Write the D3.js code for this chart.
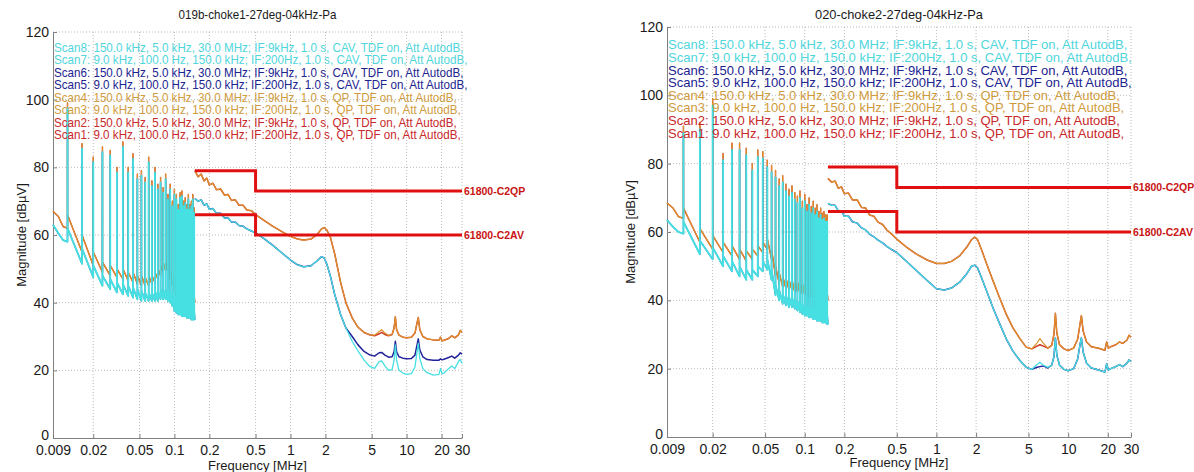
<!DOCTYPE html>
<html>
<head>
<meta charset="utf-8">
<script src="https://cdn.jsdelivr.net/npm/d3@7"></script>
<style>
  body { margin: 0; background: #fff; }
  svg { display: block; }
  text { font-family: "Liberation Sans", Arial, sans-serif; }
</style>
</head>
<body>
<svg id="chart" width="1194" height="472"></svg>
<script>
// ---- axis ticks / labels ----
var xTicks = [0.009, 0.02, 0.05, 0.1, 0.2, 0.5, 1, 2, 5, 10, 20, 30];
var xTickLabels = ["0.009", "0.02", "0.05", "0.1", "0.2", "0.5", "1", "2", "5", "10", "20", "30"];
var yTicks = [0, 20, 40, 60, 80, 100, 120];
var titles = ["019b-choke1-27deg-04kHz-Pa", "020-choke2-27deg-04kHz-Pa"];

// ---- legend (top line first) ----
var legendLines = [
  "Scan8: 150.0 kHz, 5.0 kHz, 30.0 MHz; IF:9kHz, 1.0 s, CAV, TDF on, Att AutodB,",
  "Scan7: 9.0 kHz, 100.0 Hz, 150.0 kHz; IF:200Hz, 1.0 s, CAV, TDF on, Att AutodB,",
  "Scan6: 150.0 kHz, 5.0 kHz, 30.0 MHz; IF:9kHz, 1.0 s, CAV, TDF on, Att AutodB,",
  "Scan5: 9.0 kHz, 100.0 Hz, 150.0 kHz; IF:200Hz, 1.0 s, CAV, TDF on, Att AutodB,",
  "Scan4: 150.0 kHz, 5.0 kHz, 30.0 MHz; IF:9kHz, 1.0 s, QP, TDF on, Att AutodB,",
  "Scan3: 9.0 kHz, 100.0 Hz, 150.0 kHz; IF:200Hz, 1.0 s, QP, TDF on, Att AutodB,",
  "Scan2: 150.0 kHz, 5.0 kHz, 30.0 MHz; IF:9kHz, 1.0 s, QP, TDF on, Att AutodB,",
  "Scan1: 9.0 kHz, 100.0 Hz, 150.0 kHz; IF:200Hz, 1.0 s, QP, TDF on, Att AutodB,"
];
var legendColors = ["#4fd6dc", "#4fd6dc", "#1c2490", "#1c2490", "#cf9b3d", "#cf9b3d", "#c8282a", "#c8282a"];

// ---- limit lines (MHz, dBuV) ----
var limitFreq = [0.15, 0.5, 0.5, 30];
var limitQP = [79, 79, 73, 73];
var limitAV = [66, 66, 60, 60];
var limitNames = ["61800-C2QP", "61800-C2AV"];

// ---- 9 kHz - 150 kHz scans (comb of harmonics) ----
var combStartKHz = [9, 10, 11];
var combHarmonicsKHz = [12, 16, 20, 24, 28, 32, 36, 40, 44, 48, 52, 56, 60, 64, 68, 72, 76, 80, 84, 88,
  92, 96, 100, 104, 108, 112, 116, 120, 124, 128, 132, 136, 140, 144, 148];
var combEndKHz = 150;

// left panel (019b)
var leftStartQP = [67, 65.5, 62.5];
var leftStartAV = [63, 60.5, 58.5];
var leftPeakQP = [99, 87, 83, 86, 85, 80, 87.5, 80, 84, 78, 79, 77, 83, 76, 80, 75, 77, 74, 78, 72,
  75, 70, 73.5, 72, 69, 72.5, 73, 70, 71, 69, 72, 69, 70, 72, 68];
var leftPeakAV = [97.5, 85.5, 81.5, 84.5, 83.5, 78.5, 86, 78.5, 82.5, 76.5, 77.5, 75.5, 81.5, 74.5, 78.5, 73.5, 75.5, 72.5, 76.5, 70.5,
  73.5, 68.5, 72, 70.5, 67.5, 71, 71.5, 68.5, 69.5, 67.5, 70.5, 67.5, 68.5, 70.5, 66.5];
var leftLoQP = [62, 55, 51, 49, 48, 47.5, 47, 46.5, 46, 45.5, 45, 45, 45, 45.5, 46, 47, 48, 49, 49.5, 49,
  47, 45, 43, 42, 41.5, 41, 41, 40.5, 40.5, 40.5, 40, 40, 40, 40, 40];
var leftHiQP = [66, 60, 55, 52, 51, 50, 50, 49, 49, 48, 48, 47.5, 48, 48, 49, 50, 51, 52, 52, 51,
  50, 48, 46, 45, 44, 44, 44, 43, 43, 43, 43, 42.5, 42.5, 42.5, 42];
var leftLoAV = [58, 51.5, 47.5, 45, 44, 43, 42.5, 42, 41.5, 41, 40.5, 40.5, 40.5, 40.5, 40.5, 40.5, 41, 41, 41, 40.5,
  40, 39, 37.5, 37, 36.5, 36.5, 36, 36, 36, 35.5, 35.5, 35.5, 35, 35, 35];
var leftHiAV = [62, 56, 51, 48, 47, 46, 45.5, 45, 44.5, 44, 43.5, 43, 43, 43, 43.5, 43.5, 44, 44, 44, 43.5,
  43, 42, 40.5, 40, 39.5, 39.5, 39, 39, 38.5, 38.5, 38, 38, 38, 37.5, 37.5];
var leftEndQP = 40, leftEndAV = 35;

// right panel (020)
var rightStartQP = [68.5, 67, 64.5];
var rightStartAV = [63.5, 61.5, 60];
var rightPeakQP = [91, 92, 99, 83, 86, 86, 84.5, 80, 84, 83.5, 81, 79.5, 78, 75.5, 76.5, 74, 72.5, 73.5, 71.5, 70.5,
  72, 69, 71, 68, 70, 67.5, 69, 67, 68, 66, 67, 65.5, 66, 65, 65];
var rightPeakAV = [89, 90, 97, 81, 84, 84, 82.5, 78, 82, 81.5, 79, 77.5, 76, 73.5, 74.5, 72, 70.5, 71.5, 69.5, 68.5,
  70, 67, 69, 66, 68, 65.5, 67, 65, 66, 64, 65, 63.5, 64, 63, 63];
var rightLoQP = [64, 57, 55, 54, 53, 52, 51.5, 52, 53, 54, 55, 52, 47, 45, 44, 43.5, 43, 43, 42.5, 42.5,
  42, 42, 41.5, 41.5, 41, 41, 41, 41, 40.5, 40.5, 40.5, 40, 40, 40, 40];
var rightHiQP = [67, 61, 59, 57, 56, 55, 54.5, 55, 56, 57, 58, 55, 50, 48, 47, 46.5, 46, 46, 45.5, 45.5,
  45, 45, 44.5, 44.5, 44, 44, 44, 44, 43.5, 43.5, 43.5, 43, 43, 43, 42.5];
var rightLoAV = [59.5, 53.5, 52, 50, 48.5, 47, 46, 46, 47, 48.5, 49, 46, 41.5, 40, 39, 38.5, 38, 38, 37.5, 37,
  36.5, 36, 35.5, 35.5, 35, 35, 34.5, 34.5, 34, 34, 34, 33.5, 33.5, 33.5, 33];
var rightHiAV = [63, 57.5, 55.5, 53, 51.5, 50, 49, 49, 50, 51.5, 52, 49, 44.5, 43, 42, 41.5, 41, 41, 40.5, 40,
  39.5, 39, 38.5, 38.5, 38, 38, 37.5, 37.5, 37, 37, 37, 36.5, 36.5, 36.5, 36];
var rightEndQP = 40, rightEndAV = 33;

// ---- 150 kHz - 30 MHz scans ----
var wideFreqMHz = [0.15, 0.16, 0.17, 0.18, 0.19, 0.2, 0.215, 0.23, 0.25, 0.27,
  0.29, 0.31, 0.335, 0.36, 0.39, 0.42, 0.46, 0.5, 0.6, 0.7,
  0.85, 1.0, 1.15, 1.3, 1.5, 1.7, 1.85, 1.95, 2.05, 2.2,
  2.4, 2.7, 3.0, 3.4, 3.8, 4.3, 4.8, 5.3, 5.8, 6.1,
  6.5, 7.0, 7.5, 7.8, 8.0, 8.2, 8.6, 9.3, 10, 11,
  11.8, 12.3, 12.6, 13.0, 13.8, 15, 17, 19, 19.6, 20.2,
  21, 23, 24.5, 26, 28, 29, 30];

var leftWideQP = [79.0, 77.2, 78.0, 76.0, 76.8, 74.8, 75.3, 73.4, 73.6, 71.8,
  72.0, 70.2, 70.4, 68.8, 68.8, 67.4, 67.2, 66.0, 64.2, 62.6,
  60.9, 59.6, 58.8, 58.5, 58.8, 60.2, 61.8, 62.2, 61.5, 59.5,
  54.5, 46.0, 40.0, 35.5, 32.8, 31.2, 30.5, 30.4, 31.5, 32.0,
  31.0, 30.3, 30.6, 32.5, 35.8, 32.0, 30.4, 29.8, 29.6, 29.8,
  31.0, 34.0, 35.6, 32.0, 30.0, 29.3, 29.0, 28.9, 29.8, 28.7,
  28.9, 29.4, 30.2, 29.6, 30.5, 31.8, 31.2];
var leftWideQPred = [79.0, 77.2, 78.0, 76.0, 76.8, 74.8, 75.3, 73.4, 73.6, 71.8,
  72.0, 70.2, 70.4, 68.8, 68.8, 67.4, 67.2, 66.0, 64.2, 62.6,
  60.9, 59.6, 58.8, 58.5, 58.8, 60.2, 61.8, 62.2, 61.5, 59.5,
  54.5, 46.0, 40.0, 35.5, 32.8, 31.2, 30.5, 30.2, 30.8, 31.2,
  30.6, 30.2, 30.6, 32.5, 35.8, 32.0, 30.4, 29.8, 29.6, 29.8,
  31.0, 34.0, 35.6, 32.0, 30.0, 29.3, 29.0, 28.9, 29.8, 28.7,
  28.9, 29.4, 30.2, 29.6, 30.5, 31.8, 31.2];
var leftWideAV = [70.8, 70.0, 70.4, 68.8, 69.2, 67.6, 67.8, 66.4, 66.4, 65.0,
  65.0, 63.8, 63.8, 62.8, 62.6, 61.8, 61.2, 60.6, 58.8, 57.0,
  54.6, 52.6, 51.2, 50.6, 50.9, 52.4, 53.6, 53.2, 51.5, 48.0,
  42.5, 36.5, 32.5, 28.6, 25.8, 23.0, 21.2, 20.6, 22.6, 22.8,
  21.3, 20.0, 20.2, 23.0, 27.5, 23.0, 20.0, 19.2, 18.8, 19.0,
  21.0, 25.5, 28.0, 23.5, 20.5, 19.3, 18.6, 18.8, 20.6, 19.0,
  19.2, 20.5, 21.3, 20.5, 22.6, 23.2, 22.0];
var leftWideAVnavy = [70.8, 70.0, 70.4, 68.8, 69.2, 67.6, 67.8, 66.4, 66.4, 65.0,
  65.0, 63.8, 63.8, 62.8, 62.6, 61.8, 61.2, 60.6, 58.8, 57.0,
  54.6, 52.6, 51.2, 50.6, 50.9, 52.4, 53.6, 53.2, 51.5, 48.0,
  42.5, 36.5, 32.5, 30.0, 27.6, 25.6, 24.6, 24.2, 25.2, 25.3,
  24.5, 23.9, 24.0, 25.5, 28.6, 25.5, 24.0, 23.6, 23.4, 23.5,
  24.5, 27.5, 29.3, 26.0, 24.0, 23.2, 23.0, 23.0, 23.4, 23.1,
  23.3, 23.8, 24.2, 23.6, 24.5, 25.2, 24.8];

var rightWideQP = [75.7, 74.6, 74.9, 72.8, 73.2, 71.2, 71.4, 69.4, 69.4, 67.2,
  67.0, 65.0, 64.6, 62.9, 62.2, 60.6, 59.3, 57.9, 55.4, 53.6,
  51.8, 50.8, 50.8, 51.4, 53.0, 55.6, 57.8, 58.5, 57.8, 54.8,
  50.8, 45.5, 41.0, 35.8, 32.0, 28.8, 26.3, 25.8, 27.5, 28.8,
  27.4, 26.0, 26.8, 30.0, 36.2, 30.5, 27.0, 25.8, 25.3, 26.0,
  28.6, 33.0, 35.5, 31.0, 27.8, 26.4, 26.0, 25.4, 27.8, 26.0,
  26.4, 27.0, 27.8, 27.4, 28.4, 29.8, 29.2];
var rightWideQPred = [75.7, 74.6, 74.9, 72.8, 73.2, 71.2, 71.4, 69.4, 69.4, 67.2,
  67.0, 65.0, 64.6, 62.9, 62.2, 60.6, 59.3, 57.9, 55.4, 53.6,
  51.8, 50.8, 50.8, 51.4, 53.0, 55.6, 57.8, 58.5, 57.8, 54.8,
  50.8, 45.5, 41.0, 35.8, 32.0, 28.8, 26.3, 25.8, 26.6, 27.0,
  26.6, 26.0, 26.8, 30.0, 36.2, 30.5, 27.0, 25.8, 25.3, 26.0,
  28.6, 33.0, 35.5, 31.0, 27.8, 26.4, 26.0, 25.4, 27.8, 26.0,
  26.4, 27.0, 27.8, 27.4, 28.4, 29.8, 29.2];
var rightWideAV = [68.4, 67.8, 67.8, 66.2, 66.2, 64.6, 64.6, 63.0, 62.6, 61.2,
  60.6, 59.4, 58.6, 57.6, 56.8, 55.8, 54.8, 54.0, 51.2, 48.8,
  45.8, 43.4, 43.0, 43.6, 45.3, 47.8, 50.0, 50.3, 49.5, 46.6,
  42.8, 37.6, 33.4, 28.6, 25.2, 22.4, 20.4, 19.8, 21.2, 21.8,
  21.0, 20.4, 21.0, 23.5, 29.0, 24.0, 21.0, 19.8, 19.4, 20.0,
  22.8, 27.0, 29.0, 24.8, 21.6, 20.2, 19.6, 19.0, 21.4, 19.6,
  20.0, 20.6, 21.2, 20.6, 21.6, 22.6, 22.0];
var rightWideAVnavy = [68.4, 67.8, 67.8, 66.2, 66.2, 64.6, 64.6, 63.0, 62.6, 61.2,
  60.6, 59.4, 58.6, 57.6, 56.8, 55.8, 54.8, 54.0, 51.2, 48.8,
  45.8, 43.4, 43.0, 43.6, 45.3, 47.8, 50.0, 50.3, 49.5, 46.6,
  42.8, 37.6, 33.4, 28.6, 25.2, 22.4, 20.4, 19.8, 20.4, 20.6,
  20.8, 20.2, 21.0, 23.5, 29.0, 24.0, 21.0, 19.8, 19.4, 20.0,
  22.8, 27.0, 29.0, 24.8, 21.6, 20.2, 19.6, 19.0, 21.4, 19.6,
  20.0, 20.6, 21.2, 20.6, 21.6, 22.6, 22.0];

// ---- colours ----
var cRed = "#d0361e", cOrange = "#dc912e", cNavy = "#22229a", cCyan = "#46dfe2", cLimit = "#e01010";

var svg = d3.select("#chart");

function combPoints(start, lo, pk, hi, end) {
  var pts = combStartKHz.map(function(f, i) { return [f / 1000, start[i]]; });
  combHarmonicsKHz.forEach(function(h, i) {
    pts.push([h / 1000, lo[i]], [h / 1000, pk[i]], [h / 1000, hi[i]]);
  });
  pts.push([combEndKHz / 1000, end]);
  return pts;
}
function widePoints(vals) {
  return wideFreqMHz.map(function(f, i) { return [f, vals[i]]; });
}

var panels = [
  {title: titles[0], titleW: 158, x0: 53, x1: 462, yTop: 32, yBot: 438, yLabX: 21, xLabY: 470,
   legY: 52, legStep: 12.5, legW: 410,
   traces: [
     {pts: combPoints(leftStartQP, leftLoQP, leftPeakQP, leftHiQP, leftEndQP), c: cRed, w: 1.4},
     {pts: widePoints(leftWideQPred), c: cRed, w: 1.5},
     {pts: combPoints(leftStartQP, leftLoQP, leftPeakQP, leftHiQP, leftEndQP), c: cOrange, w: 1.2},
     {pts: widePoints(leftWideQP), c: cOrange, w: 1.2},
     {pts: combPoints(leftStartAV, leftLoAV, leftPeakAV, leftHiAV, leftEndAV), c: cNavy, w: 1.3},
     {pts: widePoints(leftWideAVnavy), c: cNavy, w: 1.5},
     {pts: combPoints(leftStartAV, leftLoAV, leftPeakAV, leftHiAV, leftEndAV), c: cCyan, w: 1.9},
     {pts: widePoints(leftWideAV), c: cCyan, w: 1.3}
   ]},
  {title: titles[1], titleW: 168, x0: 667, x1: 1131, yTop: 27, yBot: 437, yLabX: 630, xLabY: 467,
   legY: 49.5, legStep: 12.6, legW: 460,
   traces: [
     {pts: combPoints(rightStartQP, rightLoQP, rightPeakQP, rightHiQP, rightEndQP), c: cRed, w: 1.4},
     {pts: widePoints(rightWideQPred), c: cRed, w: 1.5},
     {pts: combPoints(rightStartQP, rightLoQP, rightPeakQP, rightHiQP, rightEndQP), c: cOrange, w: 1.2},
     {pts: widePoints(rightWideQP), c: cOrange, w: 1.2},
     {pts: combPoints(rightStartAV, rightLoAV, rightPeakAV, rightHiAV, rightEndAV), c: cNavy, w: 1.3},
     {pts: widePoints(rightWideAVnavy), c: cNavy, w: 1.5},
     {pts: combPoints(rightStartAV, rightLoAV, rightPeakAV, rightHiAV, rightEndAV), c: cCyan, w: 1.9},
     {pts: widePoints(rightWideAV), c: cCyan, w: 1.3}
   ]}
];

panels.forEach(function(p) {
  var g = svg.append("g");
  var x = d3.scaleLog().domain([0.009, 30]).range([p.x0, p.x1]);
  var y = d3.scaleLinear().domain([0, 120]).range([p.yBot, p.yTop]);

  // dotted grid
  g.append("g").selectAll("line").data(xTicks.slice(1)).join("line")
    .attr("x1", d => x(d)).attr("x2", d => x(d))
    .attr("y1", p.yTop).attr("y2", p.yBot)
    .attr("stroke", "#aaaaaa").attr("stroke-width", 0.8).attr("stroke-dasharray", "1,2");
  g.append("g").selectAll("line").data(yTicks.slice(1)).join("line")
    .attr("x1", p.x0).attr("x2", p.x1)
    .attr("y1", d => y(d)).attr("y2", d => y(d))
    .attr("stroke", "#aaaaaa").attr("stroke-width", 0.8).attr("stroke-dasharray", "1,2");

  // axes
  var ax = g.append("g").attr("transform", "translate(0," + p.yBot + ")")
    .call(d3.axisBottom(x).tickValues(xTicks).tickFormat((d, i) => xTickLabels[i])
      .tickSizeInner(-4).tickSizeOuter(0).tickPadding(7));
  var ay = g.append("g").attr("transform", "translate(" + p.x0 + ",0)")
    .call(d3.axisLeft(y).tickValues(yTicks).tickSizeInner(-4).tickSizeOuter(0).tickPadding(4));
  [ax, ay].forEach(function(a) {
    a.attr("font-size", 14).attr("font-family", "Liberation Sans, Arial, sans-serif");
    a.selectAll("path, line").attr("stroke", "#808080");
    a.selectAll("text").attr("fill", "#1a1a1a");
  });
  ay.selectAll(".tick text").filter(d => d === 0).attr("dy", "0.1em");

  // measurement traces
  var line = d3.line().x(d => x(d[0])).y(d => y(d[1]));
  g.append("g").selectAll("path").data(p.traces).join("path")
    .attr("d", d => line(d.pts))
    .attr("fill", "none")
    .attr("stroke", d => d.c)
    .attr("stroke-width", d => d.w)
    .attr("stroke-linejoin", "round");

  // limit lines
  [limitQP, limitAV].forEach(function(lim, k) {
    g.append("path")
      .attr("d", line(limitFreq.map((f, i) => [f, lim[i]])))
      .attr("fill", "none").attr("stroke", cLimit).attr("stroke-width", 3);
    g.append("text")
      .attr("x", p.x1 + 2).attr("y", y(lim[lim.length - 1]))
      .attr("dy", "0.36em")
      .attr("font-size", 10.5).attr("font-weight", "bold")
      .attr("fill", "#c81414")
      .text(limitNames[k]);
  });

  // legend text block
  var leg = g.append("g");
  leg.selectAll("text").data(legendLines).join("text")
    .attr("x", 0)
    .attr("y", (d, i) => p.legY + i * p.legStep)
    .attr("font-size", 12.5)
    .attr("fill", (d, i) => legendColors[i])
    .text(d => d);
  var w0 = leg.select("text").node().getComputedTextLength();
  leg.attr("transform", "translate(" + (p.x0 + 1) + ",0) scale(" + (p.legW / w0) + ",1)");

  // title and axis labels
  var cx = (p.x0 + p.x1) / 2;
  var t = g.append("text")
    .attr("x", 0).attr("y", 19.5)
    .attr("text-anchor", "middle").attr("font-size", 13).attr("fill", "#1a1a1a")
    .text(p.title);
  t.attr("transform", "translate(" + cx + ",0) scale(" + (p.titleW / t.node().getComputedTextLength()) + ",1)");
  g.append("text")
    .attr("x", cx).attr("y", p.xLabY)
    .attr("text-anchor", "middle").attr("font-size", 13).attr("fill", "#1a1a1a")
    .text("Frequency [MHz]");
  g.append("text")
    .attr("transform", "translate(" + p.yLabX + "," + ((p.yTop + p.yBot) / 2) + ") rotate(-90)")
    .attr("dy", "0.35em")
    .attr("text-anchor", "middle").attr("font-size", 13).attr("fill", "#1a1a1a")
    .text("Magnitude [dBµV]");
});
</script>
</body>
</html>
